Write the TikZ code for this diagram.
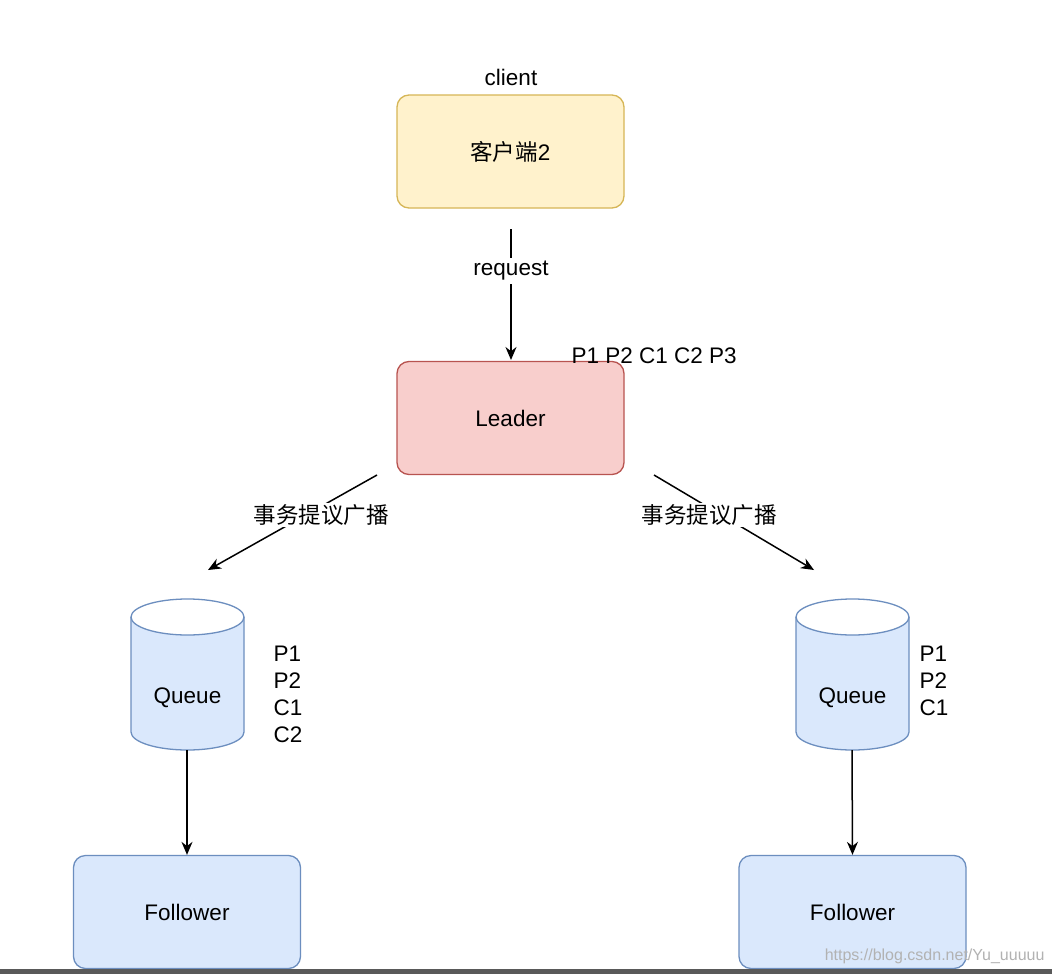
\documentclass[tikz,border=0pt]{standalone}
\usepackage{fontspec}
\setmainfont{Liberation Sans}
\newfontfamily\cjk{Noto Sans CJK SC}
\usetikzlibrary{arrows.meta}
\definecolor{yf}{HTML}{FFF2CC}\definecolor{ys}{HTML}{D6B656}
\definecolor{rf}{HTML}{F8CECC}\definecolor{rs}{HTML}{B85450}
\definecolor{bf}{HTML}{DAE8FC}\definecolor{bs}{HTML}{6C8EBF}
\begin{document}
\begin{tikzpicture}[x=1pt,y=-1pt,
 box/.style={draw, rounded corners=12pt, line width=1.3pt, minimum width=227pt, minimum height=113pt},
 txt/.style={font=\fontsize{22.5}{27}\selectfont},
 ctxt/.style={font=\cjk\fontsize{22.5}{27}\selectfont},
 arr/.style={-{Stealth[length=13pt,width=11pt]}, line width=1.5pt}]
\useasboundingbox[fill=white] (0,0) rectangle (1052,974);
\node[box,fill=yf,draw=ys,ctxt] (client) at (510.5,151.5) {客户端{\fontspec{Liberation Sans}2}};
\node[txt] (cl) at (511,77) {client};
\node[box,fill=rf,draw=rs,txt] (leader) at (510.5,418) {Leader};
\node[txt,anchor=west] (pl) at (568,356) {P1 P2 C1 C2 P3};
\coordinate (rq0) at (511,229); \coordinate (rq1) at (511,360);
\draw[arr] (rq0) -- (rq1);
\node[fill=white,txt,inner sep=3pt] (rql) at (511,271) {request};
\coordinate (l0) at (377,475); \coordinate (l1) at (208,570);
\coordinate (r0) at (654,475); \coordinate (r1) at (814,570);
\draw[arr] (l0) -- (l1); \draw[arr] (r0) -- (r1);
\node[fill=white,ctxt,inner sep=2pt] (ll) at (321,515) {事务提议广播};
\node[fill=white,ctxt,inner sep=2pt] (rl) at (709,515) {事务提议广播};
\foreach \cx/\nm in {187.5/q1,852.5/q2}{
 \fill[bf] (\cx-56.5,617) -- (\cx-56.5,732) arc[x radius=56.5,y radius=18,start angle=180,end angle=0] -- (\cx+56.5,617) arc[x radius=56.5,y radius=18,start angle=0,end angle=180] -- cycle;
 \draw[bs,line width=1.3pt] (\cx-56.5,617) -- (\cx-56.5,732) arc[x radius=56.5,y radius=18,start angle=180,end angle=0] -- (\cx+56.5,617);
 \draw[bs,line width=1.3pt] (\cx,617) ellipse[x radius=56.5,y radius=18];
 \node[txt] (\nm) at (\cx,698) {Queue};
}
\node[txt,anchor=north west,align=left] (lq) at (270,642) {P1\\P2\\C1\\C2};
\node[txt,anchor=north west,align=left] (rq) at (916,642) {P1\\P2\\C1};
\node[box,fill=bf,draw=bs,txt] (f1) at (187,912) {Follower};
\node[box,fill=bf,draw=bs,txt] (f2) at (852.5,912) {Follower};
\coordinate (a0) at (187,750); \coordinate (b0) at (852,750);
\draw[arr] (a0) -- (f1.north); \draw[arr] (b0) -- (f2.north);
\fill[gray!70!black] (0,969) rectangle (1052,974);
\node[text=gray!60,font=\fontsize{16}{18}\selectfont,anchor=east] (wm) at (1048,956) {https://blog.csdn.net/Yu\_uuuuu};
\end{tikzpicture}
\end{document}
